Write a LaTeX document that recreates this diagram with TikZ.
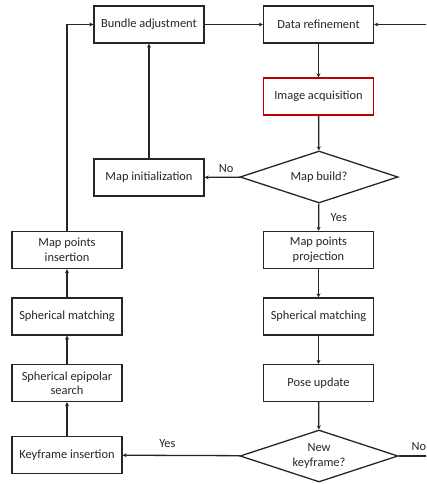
\documentclass[tikz,border=0pt]{standalone}
\usepackage{fontspec}
\setmainfont{Carlito}
\usetikzlibrary{shapes.geometric,arrows.meta}
\begin{document}
\begin{tikzpicture}[x=1pt,y=-1pt,
  txt/.style={font=\fontsize{12.4}{14.5}\selectfont, text=black!85},
  box/.style={txt, draw=black!85, line width=1.3pt, minimum width=110pt, minimum height=37pt, inner sep=1pt, align=center},
  redbox/.style={box, draw=red!75!black},
  dia/.style={txt, draw=black!85, line width=1.3pt, shape=diamond, aspect=3, minimum width=158pt, minimum height=52pt, inner sep=0pt, align=center},
  conn/.style={draw=black!85, line width=1.3pt, -{Stealth[length=4pt,width=4pt]}},
  lbl/.style={txt}]
\useasboundingbox (0,0) rectangle (426,484);
\clip (0,0) rectangle (426,484);
\node[box] (ba) at (149,24.5) {Bundle adjustment};
\node[box] (dr) at (318.5,24.5) {Data refinement};
\node[redbox] (ia) at (318.5,96.5) {Image acquisition};
\node[dia] (mb) at (319,177) {Map build?};
\node[box] (mi) at (149,177.5) {Map initialization};
\node[box] (mpi) at (67,250) {Map points\\insertion};
\node[box] (mpp) at (318.5,250) {Map points\\projection};
\node[box] (sml) at (67,316.5) {Spherical matching};
\node[box] (smr) at (318.5,316.5) {Spherical matching};
\node[box] (ses) at (67,383) {Spherical epipolar\\search};
\node[box] (pu) at (318.5,383) {Pose update};
\node[box] (ki) at (67,455) {Keyframe insertion};
\node[dia] (nk) at (319,456) {New\\keyframe?};
\coordinate (tl) at (67,24.5);
\coordinate (er) at (440,456);
\coordinate (et) at (440,24.5);
\draw[conn] (ba) -- (dr);
\draw[conn] (dr) -- (ia);
\draw[conn] (ia) -- (mb);
\draw[conn] (mb) -- node[lbl, anchor=south, pos=0.39, yshift=1pt] {No} (mi);
\draw[conn] (mb) -- node[lbl, anchor=west, pos=0.5, xshift=8pt] {Yes} (mpp);
\draw[conn] (pu) -- (nk);
\draw[conn] (mpp) -- (smr);
\draw[conn] (smr) -- (pu);
\draw[conn] (nk) -- node[lbl, anchor=south, pos=0.62, yshift=4pt] {Yes} (ki);
\draw[conn] (ki) -- (ses);
\draw[conn] (ses) -- (sml);
\draw[conn] (sml) -- (mpi);
\draw[conn] (mpi) -- (tl) -- (ba);
\draw[conn] (mi) -- (ba);
\draw[conn] (nk.east) -- (er) -- (et) -- (dr);
\node[lbl, anchor=west] (no2) at (408,447) {No};
\end{tikzpicture}
\end{document}
